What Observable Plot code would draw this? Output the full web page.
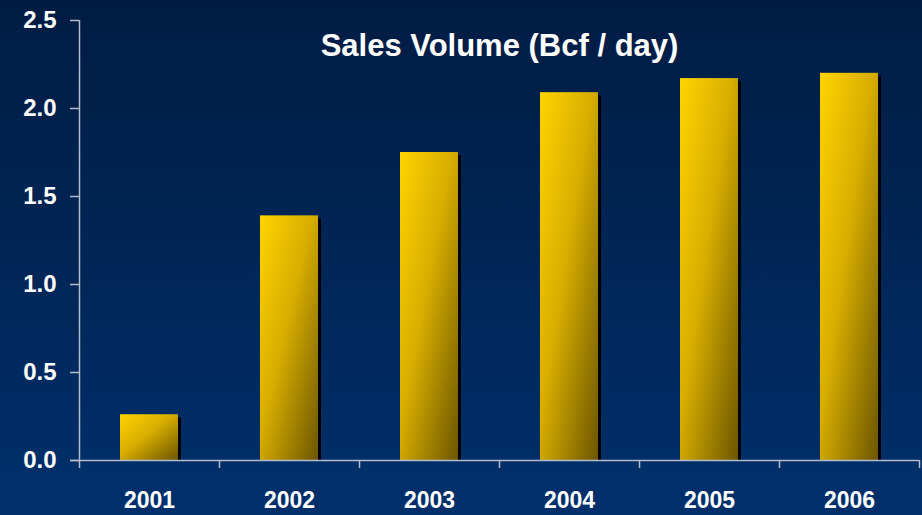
<!DOCTYPE html>
<html>
<head>
<meta charset="utf-8">
<script src="https://cdn.jsdelivr.net/npm/d3@7"></script>
<script src="https://cdn.jsdelivr.net/npm/@observablehq/plot@0.6"></script>
<style>
  html, body { margin: 0; padding: 0; }
  body {
    width: 922px; height: 515px; overflow: hidden;
    background: linear-gradient(to bottom, #001c44 0%, #002656 50%, #00306c 100%);
    font-family: "Liberation Sans", Arial, sans-serif;
  }
  #chart svg { display: block; background: transparent; }
</style>
</head>
<body>
<div id="chart"></div>
<script>
const years = ["2001", "2002", "2003", "2004", "2005", "2006"];
const volumes = [0.26, 1.39, 1.75, 2.09, 2.17, 2.20];
const yTicks = [0, 0.5, 1.0, 1.5, 2.0, 2.5];
const title = "Sales Volume (Bcf / day)";

const data = years.map((year, i) => ({year, value: volumes[i]}));

const axisColor = "#b4bccb";

const defs = () => {
  const svgNS = "http://www.w3.org/2000/svg";
  const d = document.createElementNS(svgNS, "defs");
  d.innerHTML = `
    <linearGradient id="gold" x1="0" y1="0" x2="1" y2="1">
      <stop offset="0" stop-color="#ffd400"/>
      <stop offset="0.45" stop-color="#d8ae00"/>
      <stop offset="1" stop-color="#6c5600"/>
    </linearGradient>`;
  return d;
};

const plot = Plot.plot({
  width: 922,
  height: 515,
  marginLeft: 79,
  marginRight: 3,
  marginTop: 20,
  marginBottom: 55,
  style: {background: "transparent", color: "white", fontFamily: "'Liberation Sans', Arial, sans-serif"},
  x: {domain: years, paddingInner: 0.586, paddingOuter: 0.293, align: 0.5},
  y: {domain: [0, 2.5]},
  marks: [
    defs,
    // shadows
    Plot.barY(data, {x: "year", y: "value", fill: "black", dx: 3, dy: 3, insetBottom: 3}),
    // bars
    Plot.barY(data, {x: "year", y: "value", fill: "url(#gold)"}),
    // x axis baseline
    Plot.ruleY([0], {stroke: axisColor, strokeWidth: 1.5, insetLeft: -9}),
    // y axis line
    Plot.ruleX([years[0]], {x: d => d, dx: -70, y1: 2.5, y2: -0.045, stroke: axisColor, strokeWidth: 1.5}),
    // x category boundary ticks
    Plot.ruleX(years, {x: d => d, dx: 70, y1: 0, y2: -0.045, stroke: axisColor, strokeWidth: 1.5}),
    Plot.axisY(yTicks, {
      tickSize: 9, tickPadding: 14, stroke: axisColor, strokeWidth: 1.5,
      tickFormat: d3.format(".1f"), fontSize: 24, fontWeight: "bold", fill: "white", label: null
    }),
    Plot.axisX({
      tickSize: 0, tickPadding: 31, fontSize: 23, fontWeight: "bold", fill: "white", label: null
    }),
    Plot.text([title], {
      frameAnchor: "top", dy: 13, text: d => d, fontSize: 31, fontWeight: "bold", fill: "white"
    })
  ]
});

document.getElementById("chart").appendChild(plot);
</script>
</body>
</html>
